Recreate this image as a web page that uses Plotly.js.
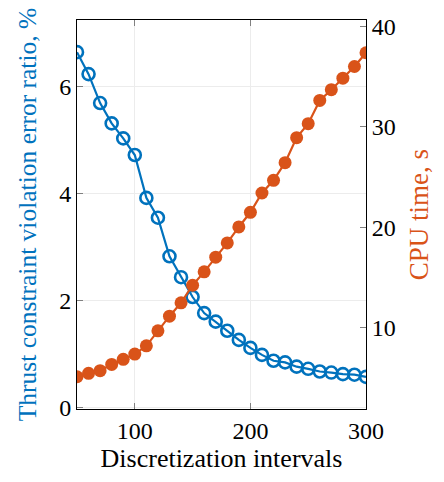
<!DOCTYPE html>
<html><head><meta charset="utf-8">
<script src="https://cdn.plot.ly/plotly-3.0.1.min.js"></script>
<style>html,body{margin:0;padding:0;background:#fff}#chart{width:444px;height:482px}</style>
</head><body><div id="chart"></div>
<script>
const intervals = [50,60,70,80,90,100,110,120,130,140,150,160,170,180,190,200,210,220,230,240,250,260,270,280,290,300];
const errorRatio = [6.64,6.23,5.69,5.31,5.03,4.72,3.92,3.55,2.83,2.44,2.07,1.77,1.61,1.44,1.27,1.12,0.99,0.88,0.85,0.77,0.73,0.68,0.66,0.63,0.62,0.58];
const cpuTime = [5.13,5.47,5.73,6.36,6.86,7.39,8.21,9.70,11.16,12.49,14.24,15.57,17.03,18.45,20.04,21.5,23.42,24.68,26.44,28.93,30.32,32.63,33.7,34.85,36.01,37.38];
const xTicks = [100,200,300];
const leftTicks = [0,2,4,6];
const rightTicks = [10,20,30,40];
const xTitle = 'Discretization intervals';
const leftTitle = 'Thrust constraint violation error ratio, %';
const rightTitle = 'CPU time, s';

const blue = '#0072BD', orange = '#D95319';
const fam = 'Liberation Serif, Times New Roman, serif';
const tickFont = {family: fam, size: 24, color: '#000'};

const traces = [
  {x: intervals, y: errorRatio, type: 'scatter', mode: 'lines+markers', yaxis: 'y',
   line: {color: blue, width: 2.2},
   marker: {symbol: 'circle-open', size: 12, color: blue, line: {width: 2.6, color: blue}}},
  {x: intervals, y: cpuTime, type: 'scatter', mode: 'lines+markers', yaxis: 'y2',
   line: {color: orange, width: 2.2},
   marker: {symbol: 'circle', size: 13, color: orange}}
];

const layout = {
  width: 444, height: 482,
  margin: {l: 77, r: 78, t: 19.5, b: 73},
  paper_bgcolor: '#fff', plot_bgcolor: '#fff',
  showlegend: false,
  font: tickFont,
  xaxis: {
    range: [50, 300], tickvals: xTicks, ticktext: xTicks.map(String),
    showgrid: true, gridcolor: '#ececec', gridwidth: 1,
    ticks: 'inside', ticklen: 6, tickcolor: '#808080', tickwidth: 1,
    showline: true, linecolor: '#000', linewidth: 1, mirror: 'ticks',
    zeroline: false, tickfont: tickFont,
    title: {text: xTitle, font: {family: fam, size: 26, color: '#000'}, standoff: 6}
  },
  yaxis: {
    range: [-0.02, 7.24], tickvals: leftTicks, ticktext: leftTicks.map(String),
    showgrid: true, gridcolor: '#ececec', gridwidth: 1,
    ticks: 'inside', ticklen: 6, tickcolor: '#808080', tickwidth: 1,
    showline: true, linecolor: '#000', linewidth: 1,
    zeroline: false, tickfont: tickFont,
    title: {text: leftTitle, font: {family: fam, size: 25.5, color: blue}, standoff: 15}
  },
  yaxis2: {
    overlaying: 'y', side: 'right',
    range: [1.92, 40.64], tickvals: rightTicks, ticktext: rightTicks.map(String),
    showgrid: false,
    ticks: 'inside', ticklen: 6, tickcolor: '#808080', tickwidth: 1,
    showline: true, linecolor: '#000', linewidth: 1,
    zeroline: false, tickfont: tickFont,
    title: {text: rightTitle, font: {family: fam, size: 27, color: orange}, standoff: 14}
  }
};
Plotly.newPlot('chart', traces, layout, {displayModeBar: false, staticPlot: true});
</script></body></html>
